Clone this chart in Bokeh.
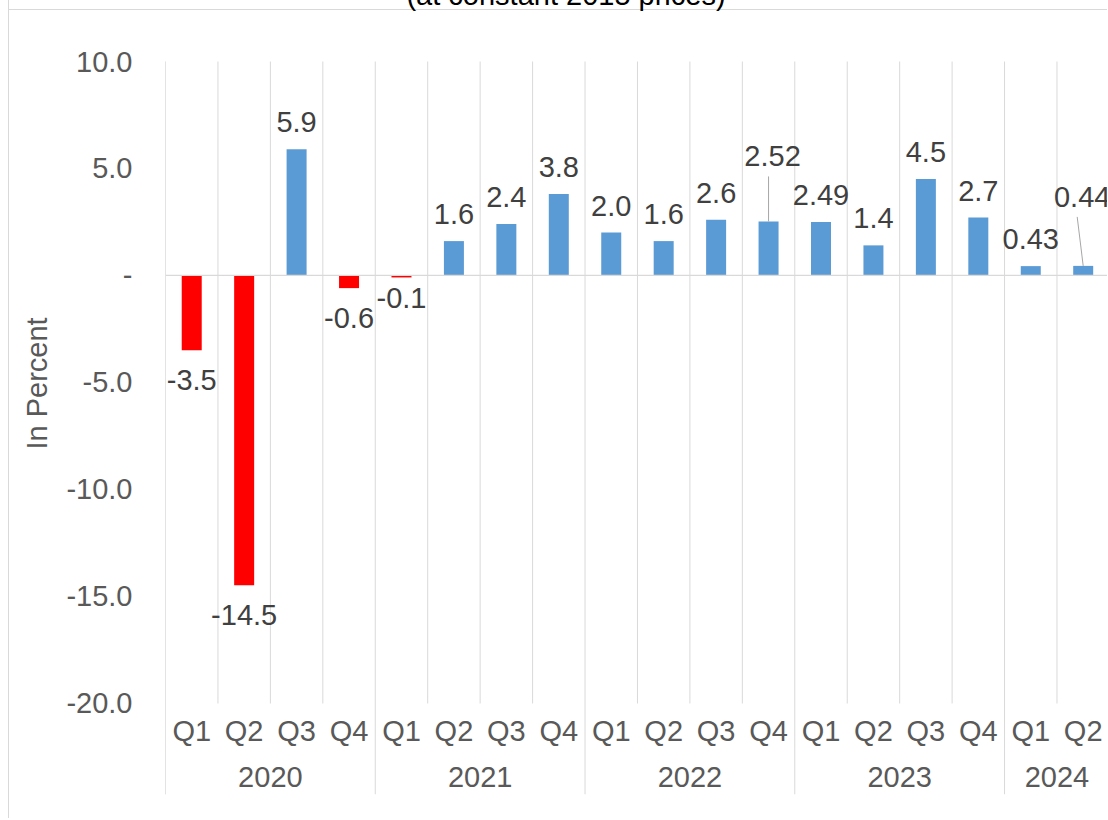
from bokeh.plotting import figure
from bokeh.models import Range1d, FixedTicker, LabelSet, ColumnDataSource, Span
from bokeh.core.properties import value
from bokeh.embed import file_html
from bokeh.resources import INLINE

# ---------------- data ----------------
years = ["2020", "2021", "2022", "2023", "2024"]
quarters_per_year = [4, 4, 4, 4, 2]
quarters = ["Q1", "Q2", "Q3", "Q4", "Q1", "Q2", "Q3", "Q4", "Q1", "Q2", "Q3", "Q4",
            "Q1", "Q2", "Q3", "Q4", "Q1", "Q2"]
growth = [-3.5, -14.5, 5.9, -0.6, -0.1, 1.6, 2.4, 3.8, 2.0, 1.6, 2.6, 2.52,
          2.49, 1.4, 4.5, 2.7, 0.43, 0.44]
growth_text = ["-3.5", "-14.5", "5.9", "-0.6", "-0.1", "1.6", "2.4", "3.8", "2.0",
               "1.6", "2.6", "2.52", "2.49", "1.4", "4.5", "2.7", "0.43", "0.44"]
y_ticks = [10, 5, 0, -5, -10, -15, -20]
y_tick_labels = ["10.0", "5.0", "-", "-5.0", "-10.0", "-15.0", "-20.0"]
title_text = "(at constant 2015 prices)"
y_title = "In Percent"

# ---------------- layout / style ----------------
CANVAS_X0, CANVAS_Y0 = 9, -28          # page position of the canvas (reference pixels)
W = 1108 - CANVAS_X0
LEFT = 165 - CANVAS_X0
FRAME_BOTTOM_REF = 794
H = 846
BOTTOM = (CANVAS_Y0 + H) - FRAME_BOTTOM_REF
CAT_PX = 52.44
PPU = 21.38                            # pixels per percent
ZERO_REF = 274.8                       # reference pixel row of value 0
FRAME_LEFT_REF = 165.0
frame_w = W - LEFT
X_END = frame_w / CAT_PX
Y_TOP = (ZERO_REF - CANVAS_Y0) / PPU
Y_BOT = (ZERO_REF - FRAME_BOTTOM_REF) / PPU
BORDER_TOP_REF = 9

def ref_x(px):
    return (px - FRAME_LEFT_REF) / CAT_PX

def ref_y(py):
    return (ZERO_REF - py) / PPU

FONT = "Liberation Sans"
FS = "29px"
GRID = "#D9D9D9"
BLUE = "#5B9BD5"
RED = "#FF0000"

border_css = (f"linear-gradient({GRID}, {GRID}) 0 {BORDER_TOP_REF - CANVAS_Y0}px / 100% 1px "
              f"no-repeat, white")
p = figure(width=W, height=H, x_range=Range1d(0, X_END), y_range=Range1d(Y_BOT, Y_TOP),
           output_backend="svg", toolbar_location=None, x_axis_type=None,
           min_border_left=LEFT, min_border_right=0, min_border_top=0,
           min_border_bottom=BOTTOM, title=None, margin=(CANVAS_Y0, 0, 0, CANVAS_X0 - 1),
           styles={"border-left": f"1px solid {GRID}", "background": border_css})
p.outline_line_color = None
p.xgrid.visible = False
p.ygrid.visible = False
p.background_fill_color = None
p.border_fill_color = None

n = len(growth)
xs = [i + 0.5 for i in range(n)]
colors = [RED if v < 0 else BLUE for v in growth]

# title (mostly above the visible page, as in the reference)
p.text(x=[ref_x(565.5)], y=[ref_y(-6)], text=[title_text], text_align="center",
       text_baseline="alphabetic", text_font=value(FONT), text_font_size=FS, text_color="#000000")

# separators (vertical gridlines)
bounds = [0]
for q in quarters_per_year:
    bounds.append(bounds[-1] + q)
year_bounds = bounds[:-1]
q_bounds = [i for i in range(1, n) if i not in year_bounds]
p.segment(x0=q_bounds, y0=[10] * len(q_bounds), x1=q_bounds, y1=[ref_y(703)] * len(q_bounds),
          line_color=GRID, line_width=1)
p.segment(x0=year_bounds, y0=[10] * len(year_bounds), x1=year_bounds,
          y1=[Y_BOT] * len(year_bounds), line_color=GRID, line_width=1)
p.add_layout(Span(location=0, dimension="width", line_color=GRID, line_width=1.3))

src = ColumnDataSource(dict(x=xs, v=growth, c=colors))
p.vbar(x="x", top="v", bottom=0, width=20 / CAT_PX, fill_color="c", line_color=None, source=src)

# data labels
pos_off, neg_off = 27, 30
special = {4: (0, -21), 11: (4, 65), 17: (-1, 69)}
lx, ly = [], []
for i, v in enumerate(growth):
    dx, dy = special.get(i, (0, pos_off if v >= 0 else -neg_off))
    lx.append(xs[i] + dx / CAT_PX)
    ly.append(v + dy / PPU)
lab_src = ColumnDataSource(dict(x=lx, y=ly, t=growth_text))
p.add_layout(LabelSet(x="x", y="y", text="t", source=lab_src, text_align="center",
                      text_baseline="middle", text_font=value(FONT), text_font_size=FS,
                      text_color="#404040"))

# leader lines
p.segment(x0=[xs[11], xs[17] - 6 / CAT_PX], y0=[growth[11] + 45 / PPU, growth[17] + 49 / PPU],
          x1=[xs[11], xs[17]], y1=[growth[11], growth[17]], line_color="#A6A6A6", line_width=1)

# category axis labels
p.text(x=xs, y=[ref_y(730)] * n, text=quarters, text_align="center", text_baseline="middle",
       text_font=value(FONT), text_font_size=FS, text_color="#595959")
year_x = [(bounds[k] + bounds[k + 1]) / 2 for k in range(len(years))]
p.text(x=year_x, y=[ref_y(776)] * len(years), text=years, text_align="center",
       text_baseline="middle", text_font=value(FONT), text_font_size=FS, text_color="#595959")

# y axis
ax = p.yaxis[0]
ax.ticker = FixedTicker(ticks=y_ticks)
ax.major_label_overrides = {float(t): s for t, s in zip(y_ticks, y_tick_labels)}
ax.axis_line_color = None
ax.major_tick_line_color = None
ax.minor_tick_line_color = None
ax.major_label_standoff = 27
ax.major_label_text_font = FONT
ax.major_label_text_font_size = FS
ax.major_label_text_color = "#595959"
ax.axis_label = y_title
ax.axis_label_standoff = 10
ax.axis_label_text_font = FONT
ax.axis_label_text_font_size = FS
ax.axis_label_text_font_style = "normal"
ax.axis_label_text_color = "#595959"
p.segment(x0=[0], y0=[10], x1=[0], y1=[Y_BOT], line_color=GRID, line_width=1)

open("out.html", "w").write(file_html(p, INLINE))
